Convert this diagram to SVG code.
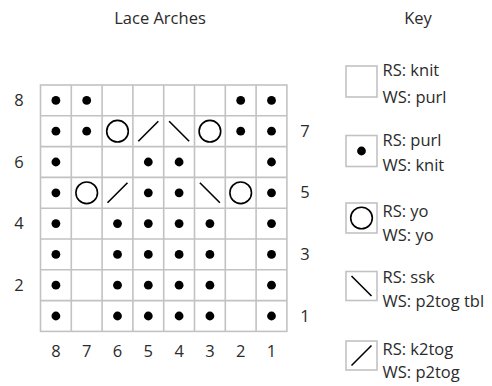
<svg xmlns="http://www.w3.org/2000/svg" xmlns:xlink="http://www.w3.org/1999/xlink" width="492" height="386" viewBox="0 0 492 386">
<style>
text{font-family:"Open Sans","Noto Sans","DejaVu Sans",sans-serif;font-size:16.5px;fill:#2b2b2b}
.num{text-anchor:middle}
.grid{fill:none;stroke:#c2c2c2;stroke-width:1.6}
.kbox{fill:#fff;stroke:#c2c2c2;stroke-width:1.6}
.sym{fill:none;stroke:#000;stroke-width:1.6}
</style>
<defs>
<circle id="dot" r="4.4" fill="#000"/>
<circle id="yo" r="10.8" class="sym"/>
<line id="ssk" x1="-10" y1="-10" x2="10" y2="10" class="sym"/>
<line id="k2tog" x1="-10" y1="10" x2="10" y2="-10" class="sym"/>
</defs>
<rect width="492" height="386" fill="#fff"/>
<text x="160" y="24" class="num">Lace Arches</text>
<text x="418" y="24" class="num">Key</text>
<g id="chart-grid">
<rect x="40.5" y="85" width="246.4" height="246.4" class="grid"/>
<path class="grid" d="M71.3 85V331.4M102.1 85V331.4M132.9 85V331.4M163.7 85V331.4M194.5 85V331.4M225.3 85V331.4M256.1 85V331.4M40.5 115.8H286.9M40.5 146.6H286.9M40.5 177.4H286.9M40.5 208.2H286.9M40.5 239H286.9M40.5 269.8H286.9M40.5 300.6H286.9"/>
</g>
<g id="row8">
<use xlink:href="#dot" x="55.9" y="100.4"/><use xlink:href="#dot" x="86.7" y="100.4"/><use xlink:href="#dot" x="240.7" y="100.4"/><use xlink:href="#dot" x="271.5" y="100.4"/>
</g>
<g id="row7">
<use xlink:href="#dot" x="55.9" y="131.2"/><use xlink:href="#dot" x="86.7" y="131.2"/><use xlink:href="#yo" x="117.5" y="131.2"/><use xlink:href="#k2tog" x="148.3" y="131.2"/><use xlink:href="#ssk" x="179.1" y="131.2"/><use xlink:href="#yo" x="209.9" y="131.2"/><use xlink:href="#dot" x="240.7" y="131.2"/><use xlink:href="#dot" x="271.5" y="131.2"/>
</g>
<g id="row6">
<use xlink:href="#dot" x="55.9" y="162"/><use xlink:href="#dot" x="148.3" y="162"/><use xlink:href="#dot" x="179.1" y="162"/><use xlink:href="#dot" x="271.5" y="162"/>
</g>
<g id="row5">
<use xlink:href="#dot" x="55.9" y="192.8"/><use xlink:href="#yo" x="86.7" y="192.8"/><use xlink:href="#k2tog" x="117.5" y="192.8"/><use xlink:href="#dot" x="148.3" y="192.8"/><use xlink:href="#dot" x="179.1" y="192.8"/><use xlink:href="#ssk" x="209.9" y="192.8"/><use xlink:href="#yo" x="240.7" y="192.8"/><use xlink:href="#dot" x="271.5" y="192.8"/>
</g>
<g id="row4">
<use xlink:href="#dot" x="55.9" y="223.6"/><use xlink:href="#dot" x="117.5" y="223.6"/><use xlink:href="#dot" x="148.3" y="223.6"/><use xlink:href="#dot" x="179.1" y="223.6"/><use xlink:href="#dot" x="209.9" y="223.6"/><use xlink:href="#dot" x="271.5" y="223.6"/>
</g>
<g id="row3">
<use xlink:href="#dot" x="55.9" y="254.4"/><use xlink:href="#dot" x="117.5" y="254.4"/><use xlink:href="#dot" x="148.3" y="254.4"/><use xlink:href="#dot" x="179.1" y="254.4"/><use xlink:href="#dot" x="209.9" y="254.4"/><use xlink:href="#dot" x="271.5" y="254.4"/>
</g>
<g id="row2">
<use xlink:href="#dot" x="55.9" y="285.2"/><use xlink:href="#dot" x="117.5" y="285.2"/><use xlink:href="#dot" x="148.3" y="285.2"/><use xlink:href="#dot" x="179.1" y="285.2"/><use xlink:href="#dot" x="209.9" y="285.2"/><use xlink:href="#dot" x="271.5" y="285.2"/>
</g>
<g id="row1">
<use xlink:href="#dot" x="55.9" y="316"/><use xlink:href="#dot" x="117.5" y="316"/><use xlink:href="#dot" x="148.3" y="316"/><use xlink:href="#dot" x="179.1" y="316"/><use xlink:href="#dot" x="209.9" y="316"/><use xlink:href="#dot" x="271.5" y="316"/>
</g>
<g id="row-labels">
<text x="19" y="106" class="num">8</text><text x="19" y="167.6" class="num">6</text><text x="19" y="229.2" class="num">4</text><text x="19" y="290.8" class="num">2</text>
<text x="305" y="136.8" class="num">7</text><text x="305" y="198.4" class="num">5</text><text x="305" y="260" class="num">3</text><text x="305" y="321.6" class="num">1</text>
</g>
<g id="col-labels">
<text x="55.9" y="356.5" class="num">8</text><text x="86.7" y="356.5" class="num">7</text><text x="117.5" y="356.5" class="num">6</text><text x="148.3" y="356.5" class="num">5</text><text x="179.1" y="356.5" class="num">4</text><text x="209.9" y="356.5" class="num">3</text><text x="240.7" y="356.5" class="num">2</text><text x="271.5" y="356.5" class="num">1</text>
</g>
<g id="key-knit">
<rect x="346" y="66" width="31" height="31" class="kbox"/>
<text x="382.5" y="76">RS: knit</text><text x="382.5" y="102.5">WS: purl</text>
</g>
<g id="key-purl">
<rect x="346" y="135.5" width="31" height="31" class="kbox"/>
<use xlink:href="#dot" x="361.5" y="151"/>
<text x="382.5" y="146">RS: purl</text><text x="382.5" y="171">WS: knit</text>
</g>
<g id="key-yo">
<rect x="346" y="203" width="31" height="30" class="kbox"/>
<use xlink:href="#yo" x="361.5" y="218"/>
<text x="382.5" y="217">RS: yo</text><text x="382.5" y="240.5">WS: yo</text>
</g>
<g id="key-ssk">
<rect x="346" y="271.5" width="31" height="29" class="kbox"/>
<use xlink:href="#ssk" x="361.5" y="286"/>
<text x="382.5" y="283">RS: ssk</text><text x="382.5" y="306.5">WS: p2tog tbl</text>
</g>
<g id="key-k2tog">
<rect x="346" y="341" width="31" height="29" class="kbox"/>
<use xlink:href="#k2tog" x="361.5" y="355.5"/>
<text x="382.5" y="355">RS: k2tog</text><text x="382.5" y="378">WS: p2tog</text>
</g>
</svg>
